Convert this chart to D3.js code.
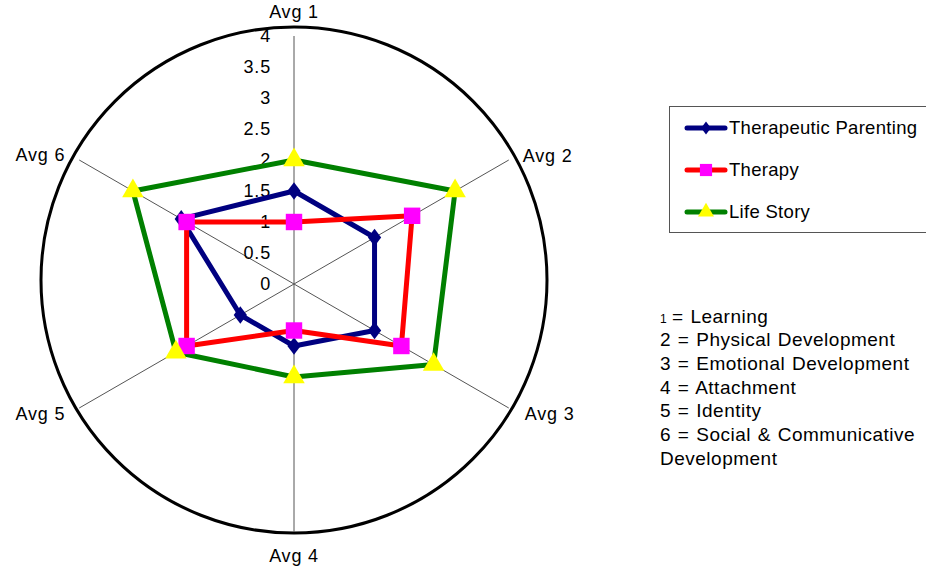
<!DOCTYPE html>
<html>
<head>
<meta charset="utf-8">
<script src="https://cdn.jsdelivr.net/npm/d3@7"></script>
<style>
  body { margin: 0; background: #fff; }
  svg { display: block; font-family: "Liberation Sans", Arial, sans-serif; }
</style>
</head>
<body>
<svg id="chart" width="926" height="567"></svg>
<script>
const categories = ["Avg 1", "Avg 2", "Avg 3", "Avg 4", "Avg 5", "Avg 6"];
const therapeuticParenting = [1.5, 1.5, 1.5, 1.0, 1.0, 2.1];
const therapy = [1.0, 2.2, 2.0, 0.75, 2.0, 2.0];
const lifeStory = [2.0, 3.0, 2.6, 1.5, 2.2, 3.0];
const tickValues = [0, 0.5, 1, 1.5, 2, 2.5, 3, 3.5, 4];
const keyLines = [
  "= Learning",
  "2 = Physical Development",
  "3 = Emotional Development",
  "4 = Attachment",
  "5 = Identity",
  "6 = Social & Communicative",
  "Development"
];

const series = [
  { name: "Therapeutic Parenting", values: therapeuticParenting, stroke: "#000080", fill: "#000080", symbol: d3.symbolDiamond, size: 90 },
  { name: "Therapy", values: therapy, stroke: "#ff0000", fill: "#ff00ff", symbol: d3.symbolSquare, size: 270 },
  { name: "Life Story", values: lifeStory, stroke: "#008000", fill: "#ffff00", symbol: d3.symbolTriangle, size: 200 }
];

const CX = 294, CY = 284;
const R = 248;
const FONT = 18;

const svg = d3.select("#chart");
const r = d3.scaleLinear().domain([0, 4]).range([0, R]);
const angle = d3.scalePoint().domain(categories).range([0, 2 * Math.PI * 5 / 6]);
const pt = (cat, v) => {
  const a = angle(cat) - Math.PI / 2;
  return [CX + r(v) * Math.cos(a), CY + r(v) * Math.sin(a)];
};

// Outer circle
svg.append("circle")
  .attr("cx", CX).attr("cy", CY - 4)
  .attr("r", R + 5)
  .attr("fill", "none")
  .attr("stroke", "#000")
  .attr("stroke-width", 3);

// Spokes
const g = svg.append("g");
categories.forEach(c => {
  const [x, y] = pt(c, 4);
  g.append("line")
    .attr("x1", CX).attr("y1", CY)
    .attr("x2", x).attr("y2", y)
    .attr("stroke", "#555")
    .attr("stroke-width", 1);
});

// Tick labels along Avg 1
g.selectAll(".tick")
  .data(tickValues)
  .enter()
  .append("text")
  .attr("x", CX - 23)
  .attr("y", d => CY - r(d))
  .attr("dy", "0.35em")
  .attr("text-anchor", "end")
  .attr("font-size", FONT)
  .attr("letter-spacing", 0.8)
  .attr("fill", "#000")
  .text(d => d);

// Category labels
const labelPos = {
  "Avg 1": { dx: 0, dy: -24, anchor: "middle" },
  "Avg 2": { dx: 14, dy: -4, anchor: "start" },
  "Avg 3": { dx: 16, dy: 6, anchor: "start" },
  "Avg 4": { dx: 0, dy: 24, anchor: "middle" },
  "Avg 5": { dx: -14, dy: 6, anchor: "end" },
  "Avg 6": { dx: -14, dy: -5, anchor: "end" }
};
categories.forEach(c => {
  const [x, y] = pt(c, 4);
  const p = labelPos[c];
  g.append("text")
    .attr("x", x + p.dx).attr("y", y + p.dy)
    .attr("dy", "0.35em")
    .attr("text-anchor", p.anchor)
    .attr("font-size", FONT)
    .attr("letter-spacing", 0.8)
    .text(c);
});

// Series
const line = d3.line().curve(d3.curveLinearClosed);
series.forEach(s => {
  const pts = categories.map((c, i) => pt(c, s.values[i]));
  svg.append("path")
    .attr("d", line(pts))
    .attr("fill", "none")
    .attr("stroke", s.stroke)
    .attr("stroke-width", 5)
    .attr("stroke-linejoin", "round");
});
series.forEach(s => {
  const sym = d3.symbol().type(s.symbol).size(s.size);
  categories.forEach((c, i) => {
    const [x, y] = pt(c, s.values[i]);
    svg.append("path")
      .attr("d", sym())
      .attr("transform", s.symbol === d3.symbolDiamond
        ? `translate(${x},${y}) scale(1.3,1)` : `translate(${x},${y})`)
      .attr("fill", s.fill);
  });
});

// Legend
const legend = svg.append("g");
legend.append("rect")
  .attr("x", 669.5).attr("y", 106.5)
  .attr("width", 270).attr("height", 126)
  .attr("fill", "#fff")
  .attr("stroke", "#555")
  .attr("stroke-width", 1);
series.forEach((s, i) => {
  const y = 128 + i * 42;
  legend.append("line")
    .attr("x1", 687).attr("x2", 725)
    .attr("y1", y).attr("y2", y)
    .attr("stroke", s.stroke)
    .attr("stroke-width", 5)
    .attr("stroke-linecap", "round");
  const sym = d3.symbol().type(s.symbol).size(s.size * 0.55);
  legend.append("path")
    .attr("d", sym())
    .attr("transform", s.symbol === d3.symbolDiamond
      ? `translate(706,${y}) scale(1.3,1)` : `translate(706,${y})`)
    .attr("fill", s.fill);
  legend.append("text")
    .attr("x", 729).attr("y", y)
    .attr("dy", "0.35em")
    .attr("font-size", 18.5)
    .attr("letter-spacing", 0.3)
    .text(s.name);
});

// Category key
const key = svg.append("g");
keyLines.forEach((t, i) => {
  const y = 316 + i * 23.7;
  const txt = key.append("text")
    .attr("x", 660).attr("y", y)
    .attr("dy", "0.35em")
    .attr("font-size", 19)
    .attr("letter-spacing", 0.5)
    .attr("word-spacing", 1);
  if (i === 0) {
    txt.append("tspan").attr("font-size", 12).text("1 ");
    txt.append("tspan").text(t);
  } else {
    txt.text(t);
  }
});
</script>
</body>
</html>
